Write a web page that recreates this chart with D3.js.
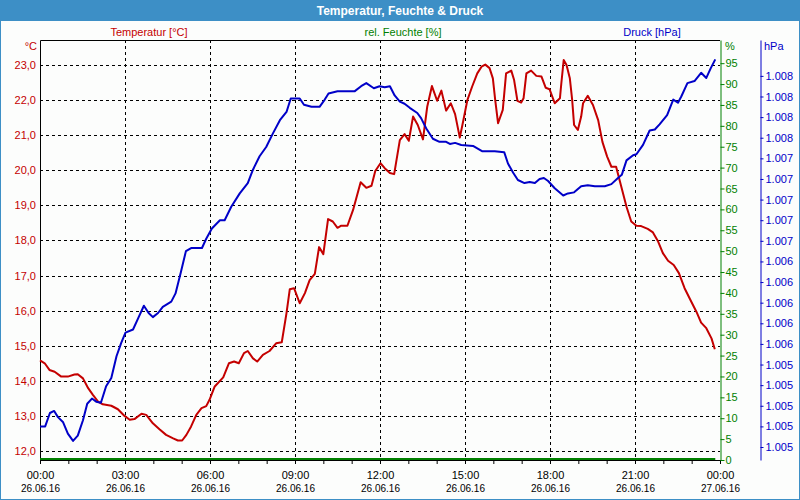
<!DOCTYPE html>
<html>
<head>
<meta charset="utf-8">
<script src="https://cdn.jsdelivr.net/npm/d3@7"></script>
<style>
    body { margin: 0; background: #fcfdfc; }
    svg { display: block; font-family: "Liberation Sans", Arial, sans-serif; font-size: 11px; }
    .grid line { stroke: #000; stroke-dasharray: 3,3; shape-rendering: crispEdges; }
</style>
</head>
<body>
<div id="chart"></div>
<script>
// values (26.06.16), time in minutes after midnight
const tempMinutes = [0, 10, 20, 31, 45, 59, 73, 80, 91, 102, 112, 123, 133, 151, 165, 179, 190, 200, 215, 225,
    239, 253, 267, 282, 292, 301, 310, 320, 331, 342, 352, 359, 370, 388, 400, 411, 421, 432, 440, 451,
    460, 472, 486, 500, 512, 522, 529, 538, 550, 561, 571, 582, 591, 600, 610, 620, 630, 638, 651, 663,
    679, 691, 702, 710, 721, 730, 741, 750, 762, 772, 781, 790, 800, 811, 820, 830, 841, 850, 860, 870,
    879, 889, 896, 905, 915, 926, 935, 943, 952, 959, 964, 970, 980, 987, 998, 1004, 1011, 1019, 1024, 1030,
    1040, 1051, 1062, 1071, 1079, 1090, 1101, 1104, 1109, 1115, 1122, 1127, 1131, 1139, 1146, 1150, 1160, 1171, 1182, 1191,
    1201, 1210, 1220, 1231, 1242, 1252, 1263, 1273, 1287, 1298, 1309, 1319, 1330, 1342, 1353, 1365, 1379, 1390, 1400, 1411,
    1422, 1429];
const tempValues = [14.58, 14.50, 14.31, 14.26, 14.12, 14.12, 14.18, 14.19, 14.07, 13.79, 13.60, 13.41, 13.33, 13.29, 13.19, 13.00, 12.89, 12.91, 13.06, 13.03,
    12.79, 12.62, 12.46, 12.36, 12.30, 12.30, 12.46, 12.70, 13.03, 13.22, 13.28, 13.46, 13.84, 14.10, 14.50, 14.55, 14.50, 14.79, 14.85, 14.64,
    14.55, 14.74, 14.85, 15.07, 15.10, 15.93, 16.61, 16.64, 16.21, 16.50, 16.87, 17.05, 17.81, 17.61, 18.61, 18.54, 18.36, 18.42, 18.42, 18.87,
    19.66, 19.50, 19.56, 19.98, 20.20, 20.06, 19.92, 19.89, 20.86, 21.03, 20.84, 21.53, 21.29, 20.88, 21.81, 22.40, 21.98, 22.27, 21.70, 21.91,
    21.60, 20.93, 21.39, 22.00, 22.38, 22.76, 22.95, 23.01, 22.91, 22.62, 22.00, 21.34, 21.72, 22.76, 22.84, 22.57, 21.98, 21.93, 22.05, 22.76,
    22.84, 22.69, 22.67, 22.35, 22.31, 21.91, 22.05, 22.48, 23.14, 23.00, 22.62, 22.00, 21.29, 21.15, 21.53, 21.91, 22.12, 21.86, 21.43, 20.81,
    20.39, 20.10, 20.10, 19.53, 18.96, 18.54, 18.42, 18.41, 18.33, 18.23, 17.97, 17.64, 17.42, 17.30, 17.07, 16.64, 16.26, 15.97, 15.66, 15.50,
    15.21, 14.90];

const pressMinutes = [0, 11, 21, 30, 38, 49, 59, 70, 80, 91, 100, 110, 119, 129, 140, 151, 162, 172, 181, 197,
    208, 220, 230, 239, 250, 260, 278, 287, 298, 309, 320, 343, 352, 364, 381, 391, 405, 423, 440, 451,
    465, 479, 493, 508, 522, 531, 550, 559, 575, 592, 603, 611, 630, 666, 680, 691, 707, 719, 730, 741,
    751, 762, 772, 783, 799, 807, 818, 832, 846, 860, 868, 879, 892, 917, 936, 963, 983, 991, 1002, 1012,
    1026, 1037, 1048, 1058, 1067, 1076, 1090, 1108, 1118, 1131, 1146, 1160, 1175, 1196, 1210, 1224, 1232, 1242, 1256, 1263,
    1277, 1291, 1302, 1312, 1328, 1341, 1351, 1358, 1371, 1386, 1400, 1411, 1420, 1430];
const pressValues = [1005.20, 1005.20, 1005.33, 1005.35, 1005.29, 1005.24, 1005.13, 1005.06, 1005.11, 1005.26, 1005.42, 1005.47, 1005.44, 1005.43, 1005.59, 1005.67, 1005.88, 1006.01, 1006.11, 1006.14,
    1006.25, 1006.37, 1006.30, 1006.26, 1006.30, 1006.36, 1006.41, 1006.49, 1006.69, 1006.90, 1006.93, 1006.93, 1007.02, 1007.12, 1007.20, 1007.20, 1007.33, 1007.46, 1007.56, 1007.69,
    1007.82, 1007.91, 1008.04, 1008.17, 1008.25, 1008.38, 1008.38, 1008.32, 1008.30, 1008.30, 1008.37, 1008.43, 1008.45, 1008.45, 1008.50, 1008.53, 1008.48, 1008.50, 1008.49, 1008.50,
    1008.41, 1008.35, 1008.33, 1008.29, 1008.24, 1008.19, 1008.09, 1007.99, 1007.96, 1007.96, 1007.94, 1007.95, 1007.93, 1007.92, 1007.87, 1007.87, 1007.86, 1007.75, 1007.66, 1007.59,
    1007.56, 1007.57, 1007.56, 1007.60, 1007.61, 1007.58, 1007.51, 1007.44, 1007.46, 1007.47, 1007.53, 1007.54, 1007.53, 1007.53, 1007.55, 1007.61, 1007.64, 1007.78, 1007.83, 1007.84,
    1007.93, 1008.07, 1008.08, 1008.13, 1008.22, 1008.37, 1008.34, 1008.40, 1008.53, 1008.55, 1008.63, 1008.58, 1008.67, 1008.76];

// humidity sensor delivered nothing that day
const humidMinutes = [0, 60, 120, 180, 240, 300, 360, 420, 480, 540, 600, 660, 720, 780, 840, 900, 960, 1020, 1080, 1140, 1200, 1260, 1320, 1380, 1430];
const humidValues = [0, 0, 0, 0, 0, 0, 0, 0, 0, 0, 0, 0, 0, 0, 0, 0, 0, 0, 0, 0, 0, 0, 0, 0, 0];

// axis ticks
const tempTicks = [12, 13, 14, 15, 16, 17, 18, 19, 20, 21, 22, 23];
const humidTicks = [0, 5, 10, 15, 20, 25, 30, 35, 40, 45, 50, 55, 60, 65, 70, 75, 80, 85, 90, 95];
const pressTicks = [1005.0, 1005.2, 1005.4, 1005.6, 1005.8, 1006.0, 1006.2, 1006.4, 1006.6, 1006.8,
    1007.0, 1007.2, 1007.4, 1007.6, 1007.8, 1008.0, 1008.2, 1008.4, 1008.6];
const pressTickLabels = ["1.005", "1.005", "1.005", "1.005", "1.005", "1.006", "1.006", "1.006", "1.006", "1.006",
    "1.007", "1.007", "1.007", "1.007", "1.007", "1.008", "1.008", "1.008", "1.008"];
const timeTickHours = [0, 3, 6, 9, 12, 15, 18, 21, 24];

const seriesNames = ["Temperatur [°C]", "rel. Feuchte [%]", "Druck [hPa]"];

const RED = "#c40000", GREEN = "#008000", BLUE = "#0000c8";

class WeatherChart {

    constructor() {
        this.width = 800;
        this.height = 500;
        this.plot = {left: 40, right: 720, top: 40, bottom: 460};

        this.svg = d3.select("#chart").append("svg")
            .attr("width", this.width)
            .attr("height", this.height);

        let day = new Date(2016, 5, 26);
        this.day = day;
        this.x = d3.scaleTime()
            .domain([day, d3.timeDay.offset(day, 1)])
            .range([this.plot.left, this.plot.right]);
        this.yTemp = d3.scaleLinear().domain([11.744, 23.712]).range([this.plot.bottom, this.plot.top]);
        this.yHum = d3.scaleLinear().domain([0, 100.55]).range([this.plot.bottom, this.plot.top]);
        this.yPress = d3.scaleLinear().domain([1004.874, 1008.948]).range([this.plot.bottom, this.plot.top]);
    }

    toDate(min) {
        return d3.timeMinute.offset(this.day, min);
    }

    drawFrame() {
        let svg = this.svg;
        svg.append("rect").attr("x", 0.5).attr("y", 0.5)
            .attr("width", this.width - 1).attr("height", this.height - 1)
            .attr("fill", "#fcfdfc").attr("stroke", "#3d8fc6");
        svg.append("rect").attr("x", 0).attr("y", 0)
            .attr("width", this.width).attr("height", 21)
            .attr("fill", "#3d8fc6");
        svg.append("text")
            .attr("x", this.width / 2).attr("y", 10.5)
            .attr("dominant-baseline", "central")
            .attr("text-anchor", "middle")
            .attr("fill", "#fff")
            .style("font-weight", "bold")
            .style("font-size", "12px")
            .text("Temperatur, Feuchte & Druck");

        // series names above the plot
        let legendX = [149, 403, 652], legendColor = [RED, GREEN, BLUE];
        svg.selectAll(".legend").data(seriesNames).enter().append("text")
            .attr("class", "legend")
            .attr("x", (d, i) => legendX[i]).attr("y", 32)
            .attr("dominant-baseline", "central")
            .attr("text-anchor", "middle")
            .attr("fill", (d, i) => legendColor[i])
            .text(d => d);

        // unit labels
        svg.append("text").attr("x", 37).attr("y", 46).attr("text-anchor", "end")
            .attr("dominant-baseline", "central").attr("fill", RED).text("°C");
        svg.append("text").attr("x", 725).attr("y", 46)
            .attr("dominant-baseline", "central").attr("fill", GREEN).text("%");
        svg.append("text").attr("x", 764).attr("y", 46)
            .attr("dominant-baseline", "central").attr("fill", BLUE).text("hPa");
    }

    drawGrid() {
        let p = this.plot;
        let grid = this.svg.append("g").attr("class", "grid");
        grid.selectAll(".h").data(tempTicks).enter().append("line")
            .attr("x1", p.left).attr("x2", p.right)
            .attr("y1", d => Math.round(this.yTemp(d)) + 0.5)
            .attr("y2", d => Math.round(this.yTemp(d)) + 0.5);
        grid.selectAll(".v").data(timeTickHours.slice(1, -1)).enter().append("line")
            .attr("y1", p.top).attr("y2", p.bottom)
            .attr("x1", d => Math.round(this.x(d3.timeHour.offset(this.day, d))) + 0.5)
            .attr("x2", d => Math.round(this.x(d3.timeHour.offset(this.day, d))) + 0.5);

        // top and left frame
        this.svg.append("path")
            .attr("d", `M${p.left + 0.5},${p.bottom}V${p.top + 0.5}H${p.right}`)
            .attr("fill", "none").attr("stroke", "#000");
    }

    drawAxes() {
        let p = this.plot;

        // time axis, hourly ticks, labels every 3 hours
        let hours = d3.range(0, 25).map(h => d3.timeHour.offset(this.day, h));
        let xMinor = this.svg.append("g").attr("transform", `translate(0,${p.bottom})`)
            .call(d3.axisBottom(this.x).tickValues(hours).tickSize(4).tickFormat(""));
        xMinor.select(".domain").attr("stroke", "#000");

        let majors = timeTickHours.map(h => d3.timeHour.offset(this.day, h));
        let xAxis = this.svg.append("g").attr("transform", `translate(0,${p.bottom})`)
            .call(d3.axisBottom(this.x).tickValues(majors).tickSize(4).tickPadding(7)
                .tickFormat(d3.timeFormat("%H:%M")));
        xAxis.select(".domain").remove();
        xAxis.selectAll("text").attr("fill", "#000").style("font-size", "11px").style("font-family", null);
        xAxis.selectAll(".tick").append("text")
            .attr("y", 25).attr("dy", "0.71em")
            .attr("fill", "#000")
            .text(d => d3.timeFormat("%d.%m.%y")(d));

        // temperature axis (left)
        let yAxisT = this.svg.append("g").attr("transform", `translate(${p.left},0)`)
            .call(d3.axisLeft(this.yTemp).tickValues(tempTicks).tickSize(0).tickPadding(4)
                .tickFormat(d => d3.format(".1f")(d).replace(".", ",")));
        yAxisT.select(".domain").remove();
        yAxisT.selectAll("text").attr("fill", RED).style("font-size", "11px").style("font-family", null);

        // humidity axis (right, green)
        let yAxisH = this.svg.append("g").attr("transform", `translate(${p.right + 0.5},0)`)
            .call(d3.axisRight(this.yHum).tickValues(humidTicks).tickSizeInner(4).tickSizeOuter(0).tickPadding(1));
        yAxisH.select(".domain").attr("stroke", GREEN);
        yAxisH.selectAll("line").attr("stroke", GREEN);
        yAxisH.selectAll("text").attr("fill", GREEN).style("font-size", "11px").style("font-family", null);

        // pressure axis (far right, blue)
        let yAxisP = this.svg.append("g").attr("transform", `translate(760.5,0)`)
            .call(d3.axisRight(this.yPress).tickValues(pressTicks).tickSizeInner(3).tickSizeOuter(0).tickPadding(2)
                .tickFormat((d, i) => pressTickLabels[i]));
        yAxisP.select(".domain").attr("stroke", BLUE);
        yAxisP.selectAll("line").attr("stroke", BLUE);
        yAxisP.selectAll("text").attr("fill", BLUE).style("font-size", "11px").style("font-family", null);
    }

    drawLines() {
        let series = [
            {min: humidMinutes, val: humidValues, y: this.yHum, color: GREEN, dy: -1},
            {min: tempMinutes, val: tempValues, y: this.yTemp, color: RED, dy: 0},
            {min: pressMinutes, val: pressValues, y: this.yPress, color: BLUE, dy: 0}
        ];
        series.forEach(s => {
            let line = d3.line()
                .x((d, i) => this.x(this.toDate(s.min[i])))
                .y(d => s.y(d) + s.dy);
            this.svg.append("path")
                .datum(s.val)
                .attr("fill", "none")
                .attr("stroke", s.color)
                .attr("stroke-width", 2)
                .attr("stroke-linejoin", "round")
                .attr("d", line);
        });
    }

    update() {
        this.drawFrame();
        this.drawGrid();
        this.drawLines();
        this.drawAxes();
    }
}

let chart = new WeatherChart();
chart.update();
</script>
</body>
</html>
